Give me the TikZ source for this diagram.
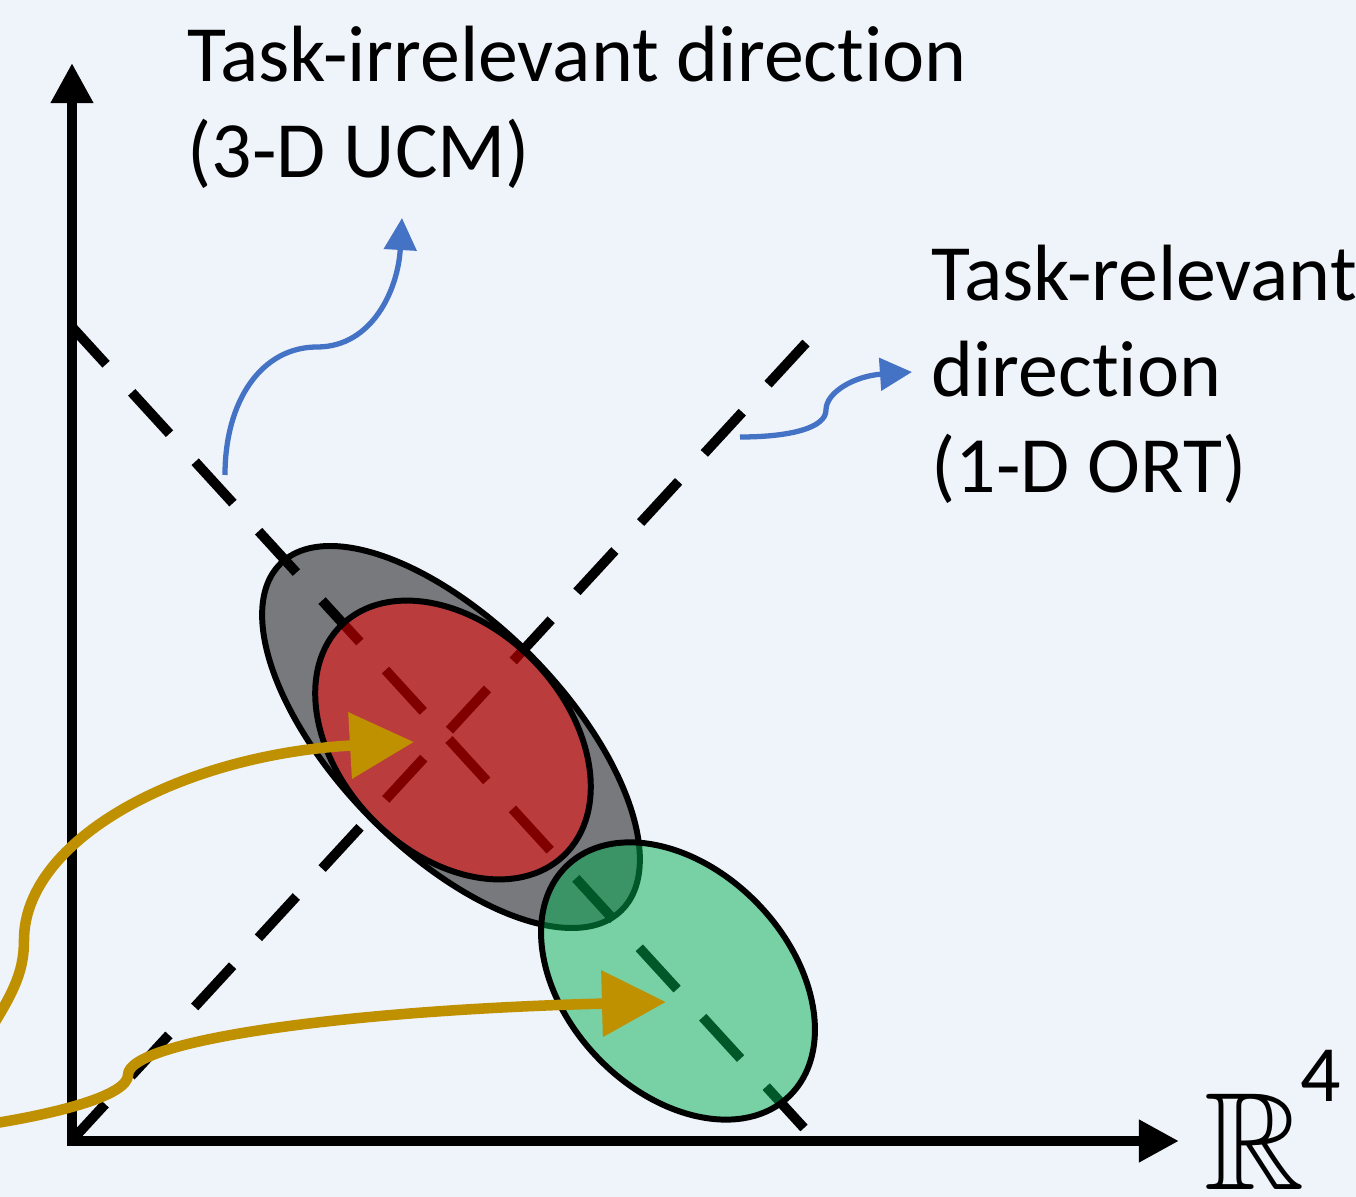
\documentclass[tikz,border=0pt]{standalone}
\usepackage{fontspec}
\setmainfont{Carlito}[Ligatures=NoCommon]
\usepackage{amssymb}
\usetikzlibrary{arrows.meta}
\definecolor{bgcol}{RGB}{239,243,250}
\definecolor{arrowblue}{RGB}{68,114,196}
\definecolor{arrowgold}{RGB}{191,144,0}
\definecolor{fitgreen}{RGB}{0,176,80}
\begin{document}
\begin{tikzpicture}[x=0.01cm, y=-0.01cm,
  axisline/.style={line width=3.1pt, line join=miter},
  dirline/.style={line width=2.8pt, dash pattern=on 0.56cm off 0.38cm},
  blob/.style={draw=black, line width=1.7pt, fill opacity=0.5},
  bluearrow/.style={arrowblue, line width=1.5pt, -{Triangle[length=0.32cm, width=0.32cm]}},
  goldarrow/.style={arrowgold, line width=3pt, -{Triangle[length=0.64cm, width=0.64cm]}},
  dirtext/.style={font=\fontsize{22.7}{27.3}\selectfont, align=left, inner sep=0pt, anchor=base west}]
\fill[bgcol] (0,0) rectangle (1356,1197);
\useasboundingbox (0,0) rectangle (1356,1197);
% axes
\coordinate (origin) at (72,1141);
\coordinate (ytip) at (72,63);
\coordinate (xtip) at (1179,1141);
\draw[axisline, {Triangle[length=0.4cm, width=0.4cm]}-{Triangle[length=0.4cm, width=0.4cm]}] (ytip) -- (origin) -- (xtip);
% the two directions
\coordinate (ucmtop) at (72,327);
\coordinate (ucmbot) at (804,1128);
\coordinate (orttop) at (806,343);
\coordinate (ortbot) at (74,1138);
\draw[dirline] (ucmbot) -- (ucmtop);
\draw[dirline] (orttop) -- (ortbot);
% distributions
\draw[blob, fill=black] (451,737) circle [x radius=2.43cm, y radius=1.14cm, rotate=-45.5];
\draw[blob, fill=red] (453,740) circle [x radius=1.6cm, y radius=1.13cm, rotate=-46];
\draw[blob, fill=fitgreen] (678,981) circle [x radius=1.6cm, y radius=1.11cm, rotate=-46];
% labels
\node[dirtext] (ucmlabel) at (187,178) {Task-irrelevant direction\\(3-D UCM)};
\node[dirtext] (ortlabel) at (931,493) {Task-relevant\\direction\\(1-D ORT)};
\node[inner sep=0pt, anchor=base, font=\fontsize{39.5}{40}\selectfont] (rspace) at (1255,1190) {$\mathbb{R}$};
\node[inner sep=0pt, anchor=base west, font=\fontsize{22.7}{27.3}\selectfont] (rdim) at (1300,1102) {4};
% pointers
\coordinate (ucmfrom) at (225,475);
\coordinate (ucmto) at (402,218);
\draw[bluearrow] (ucmfrom) .. controls (225,400) and (262,347) .. (317,347) .. controls (372,347) and (398,290) .. (ucmto);
\coordinate (ortfrom) at (740,437);
\coordinate (ortto) at (912,372);
\draw[bluearrow] (ortfrom) .. controls (790,437) and (826,428) .. (826,410) .. controls (826,392) and (855,376) .. (ortto);
% trajectories
\coordinate (redin) at (-10,1030);
\coordinate (redhit) at (414,742);
\draw[goldarrow] (redin) .. controls (15,990) and (24,970) .. (24,940) .. controls (24,840) and (180,755) .. (redhit);
\coordinate (greenin) at (-10,1124);
\coordinate (greenhit) at (666,1002);
\draw[goldarrow] (greenin) .. controls (60,1113) and (128,1095) .. (128,1075) .. controls (128,1040) and (350,1010) .. (greenhit);
\end{tikzpicture}
\end{document}
